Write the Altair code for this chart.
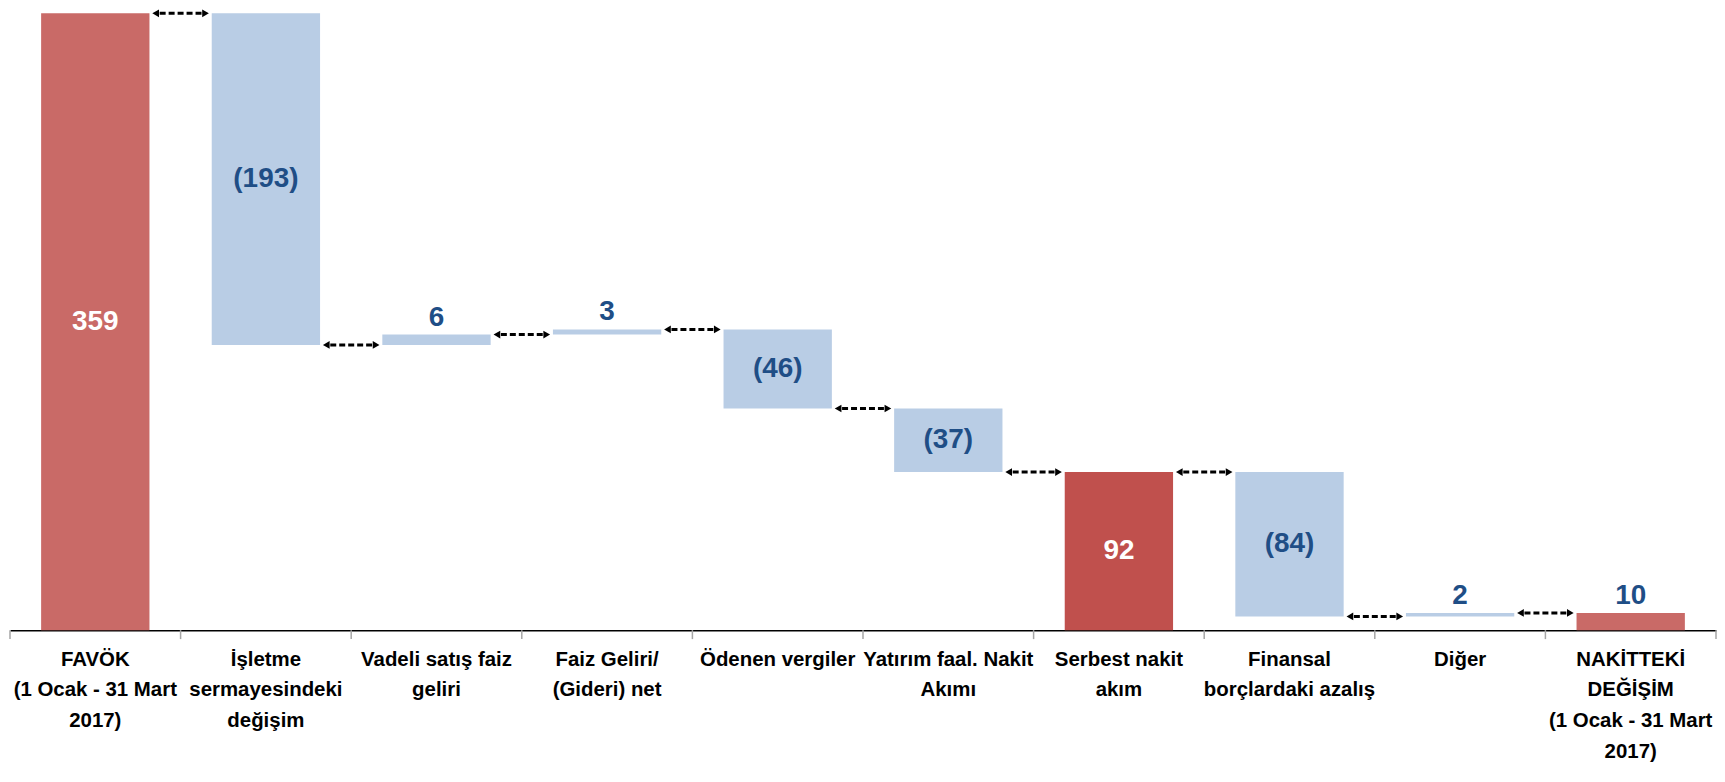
import altair as alt
import pandas as pd

categories = [
    "FAVÖK\n(1 Ocak - 31 Mart\n2017)",
    "İşletme\nsermayesindeki\ndeğişim",
    "Vadeli satış faiz\ngeliri",
    "Faiz Geliri/\n(Gideri) net",
    "Ödenen vergiler",
    "Yatırım faal. Nakit\nAkımı",
    "Serbest nakit\nakım",
    "Finansal\nborçlardaki azalış",
    "Diğer",
    "NAKİTTEKİ\nDEĞİŞİM\n(1 Ocak - 31 Mart\n2017)",
]
values = [359, -193, 6, 3, -46, -37, 92, -84, 2, 10]
kinds = ["total", "delta", "delta", "delta", "delta", "delta", "total", "delta", "delta", "total"]
bar_colors = ["#C96A67", "#B9CDE5", "#B9CDE5", "#B9CDE5", "#B9CDE5", "#B9CDE5",
              "#C0504D", "#B9CDE5", "#B9CDE5", "#C96A67"]

FONT = "Liberation Sans, Arial, sans-serif"
W, H = 1712, 619

rows = []
run = 0
for c, v, k, col in zip(categories, values, kinds, bar_colors):
    if k == "total":
        start, end = 0, v
    else:
        start, end = run, run + v
    run = end
    lab = f"({abs(v)})" if v < 0 else str(v)
    small = abs(v) < 15
    rows.append(dict(cat=c, start=start, end=end, color=col, label=lab,
                     mid=(start + end) / 2, top=max(start, end), small=small,
                     tcolor="white" if (k == "total" and not small) else "#1F4E86"))
df = pd.DataFrame(rows)

conn = pd.DataFrame([dict(b=i + 1, level=rows[i]["end"]) for i in range(len(rows) - 1)])
bounds = pd.DataFrame(dict(b=list(range(len(categories) + 1))))

yscale = alt.Scale(domain=[0, 359], nice=False, zero=True)
xband = alt.X("cat:N", sort=categories, scale=alt.Scale(paddingInner=0, paddingOuter=0),
              axis=alt.Axis(title=None, labelAngle=0, ticks=False, domain=True,
                            domainColor="black", domainWidth=1.5,
                            labelExpr="split(datum.label, '\\n')",
                            labelFont=FONT, labelFontSize=20.5, labelFontWeight="bold",
                            labelColor="black", labelLineHeight=31, labelPadding=19,
                            labelLimit=400))

bars = alt.Chart(df).mark_bar(width=alt.RelativeBandSize(0.635)).encode(
    x=xband,
    y=alt.Y("start:Q", scale=yscale, axis=None),
    y2="end:Q",
    color=alt.Color("color:N", scale=None),
)

inside = alt.Chart(df).transform_filter("!datum.small").mark_text(
    font=FONT, fontSize=28, fontWeight="bold", baseline="middle"
).encode(
    x=alt.X("cat:N", sort=categories),
    y=alt.Y("mid:Q", scale=yscale),
    text="label:N",
    color=alt.Color("tcolor:N", scale=None),
)

above = alt.Chart(df).transform_filter("datum.small").mark_text(
    font=FONT, fontSize=28, fontWeight="bold", baseline="alphabetic", dy=-9
).encode(
    x=alt.X("cat:N", sort=categories),
    y=alt.Y("top:Q", scale=yscale),
    text="label:N",
    color=alt.Color("tcolor:N", scale=None),
)

base_layer = alt.layer(bars, inside, above)

xq = alt.Scale(domain=[0, len(categories)], nice=False, zero=False)

dash = alt.Chart(conn).mark_rule(color="black", strokeWidth=3, strokeDash=[6, 3],
                                 xOffset=-21, x2Offset=21).encode(
    x=alt.X("b:Q", scale=xq, axis=None),
    x2="b:Q",
    y=alt.Y("level:Q", scale=yscale),
)
head_l = alt.Chart(conn).mark_point(shape="triangle-left", filled=True, color="black",
                                    size=60, opacity=1, xOffset=-25).encode(
    x=alt.X("b:Q", scale=xq, axis=None),
    y=alt.Y("level:Q", scale=yscale),
)
head_r = alt.Chart(conn).mark_point(shape="triangle-right", filled=True, color="black",
                                    size=60, opacity=1, xOffset=25).encode(
    x=alt.X("b:Q", scale=xq, axis=None),
    y=alt.Y("level:Q", scale=yscale),
)
ticks = alt.Chart(bounds).mark_rule(color="#A6A6A6", strokeWidth=1.5).encode(
    x=alt.X("b:Q", scale=xq, axis=None),
    y=alt.value(H),
    y2=alt.value(H + 9),
)

over_layer = alt.layer(dash, head_l, head_r, ticks)

chart = alt.layer(base_layer, over_layer).resolve_scale(x="independent").properties(
    width=W, height=H,
    padding={"left": 1, "top": 0, "right": 0, "bottom": 0},
).configure_view(stroke=None)

chart.save("out.html", embed_options={"renderer": "svg", "actions": False})
